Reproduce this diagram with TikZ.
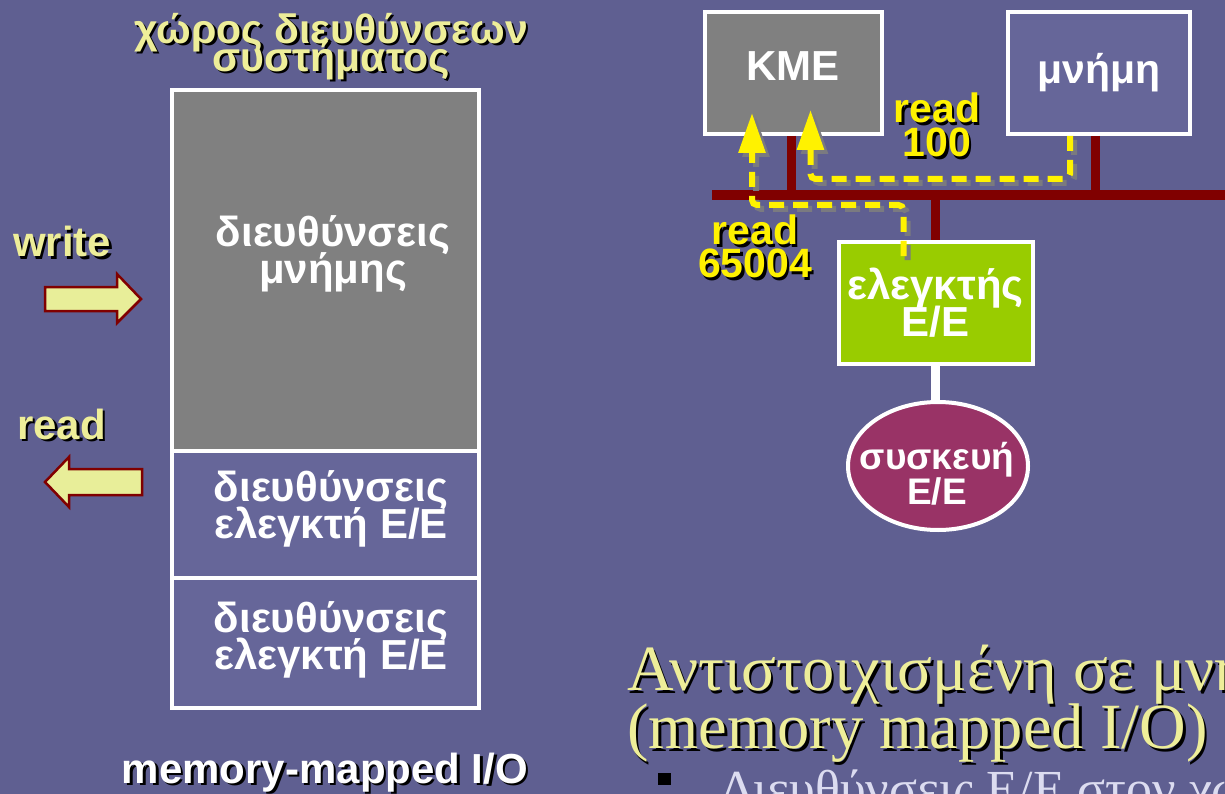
\documentclass[tikz,border=0pt]{standalone}
\usepackage{fontspec}
\setmainfont{Liberation Sans}
\newfontfamily\grserif{Liberation Serif}
\usetikzlibrary{calc,arrows.meta,shapes.geometric}
\definecolor{bgc}{HTML}{5F5F91}
\definecolor{lbox}{HTML}{666699}
\definecolor{pale}{HTML}{EEEE99}
\definecolor{palefill}{HTML}{E8EE99}
\definecolor{dred}{HTML}{800000}
\definecolor{gbox}{HTML}{808080}
\definecolor{gctrl}{HTML}{99CC00}
\definecolor{plum}{HTML}{993366}
\definecolor{lav}{HTML}{DCDCF0}
\definecolor{shgray}{HTML}{7A7A80}
\newcommand\bsz[2]{\bfseries\fontsize{#1}{#2}\selectfont\lineskiplimit=-100pt\relax}
\newcommand\ssz[2]{\grserif\fontsize{#1}{#2}\selectfont\lineskiplimit=-100pt\relax}
\newcommand\shnode[4]{%
  \node[#2,text=black] (#1s) at ($(#3)+(2.5,2.5)$) {#4};
  \node[#2] (#1) at (#3) {#4};}
\tikzset{
  every node/.style={inner sep=0pt},
  box/.style={draw=white, line width=4pt, rectangle},
  wtxt/.style={text=white, align=center, font={\bsz{42}{37}}},
  ytitle/.style={text=pale, align=center, font={\bsz{41}{28}}},
  ylab/.style={text=pale, font={\bsz{42}{42}}},
  rlab/.style={text=yellow, align=center, font={\bsz{41}{34}}},
  blockarrow/.style={draw=dred, line width=2.5pt, fill=palefill, line join=miter},
  bus/.style={draw=dred, line width=10pt},
  stub/.style={draw=dred, line width=9pt},
  flow/.style={draw=yellow, line width=6pt, dash pattern=on 15pt off 9pt, rounded corners=5pt,
    -{Triangle[width=26pt,length=40pt]}},
  flowsh/.style={flow, draw=shgray, transform canvas={shift={(4,4)}}},
  sertitle/.style={text=pale, align=left, anchor=north west, font={\ssz{64.5}{58}}},
}
\begin{document}
\begin{tikzpicture}[x=1pt,y=-1pt]
\useasboundingbox (0,0) rectangle (1225,794);
\clip (0,0) rectangle (1225,794);
\fill[bgc] (0,0) rectangle (1225,794);

% ---------- left: address space ----------
\shnode{space}{ytitle, anchor=north}{331,13}{χώρος διευθύνσεων\\συστήματος}
\node[box, fill=gbox, minimum width=307, minimum height=361] (memarea) at (325.5,270.5) {};
\node[box, fill=lbox, minimum width=307, minimum height=127] (io1) at (325.5,514.5) {};
\node[box, fill=lbox, minimum width=307, minimum height=130] (io2) at (325.5,643) {};
\node[wtxt, anchor=north] (memtxt) at (333,215) {διευθύνσεις\\μνήμης};
\node[wtxt, anchor=north] (io1txt) at (331,470) {διευθύνσεις\\ελεγκτή Ε/Ε};
\node[wtxt, anchor=north] (io2txt) at (331,601) {διευθύνσεις\\ελεγκτή Ε/Ε};

\shnode{wr}{ylab, anchor=base west}{13,257}{write}
\shnode{rd}{ylab, anchor=base west}{17,439}{read}
\draw[blockarrow] (45,287) -- (117,287) -- (117,274) -- (141,299) -- (117,323) -- (117,311) -- (45,311) -- cycle;
\draw[blockarrow] (142,469) -- (69,469) -- (69,457) -- (45,482) -- (69,507) -- (69,495) -- (142,495) -- cycle;

\shnode{mmio}{text=white, font={\bsz{42}{42}}, anchor=base}{325,783}{memory-mapped I/O}

% ---------- right: bus system ----------
\coordinate (busL) at (712,195);
\coordinate (busR) at (1225,195);
\draw[bus] (busL) -- (busR);

\node[box, fill=gbox, minimum width=177, minimum height=122] (kme) at (793.5,73) {};
\node[text=white, font={\bsz{42}{42}}] (kmetxt) at (793,66) {ΚΜΕ};
\node[box, fill=lbox, minimum width=182, minimum height=122, text=white, font={\bsz{41}{41}}] (mem) at (1099,73) {μνήμη};
\node[box, fill=gctrl, minimum width=194, minimum height=122, text=white, align=center, font={\bsz{42}{37}}] (ctrl) at (935.5,303) {ελεγκτής\\Ε/Ε};
\node[ellipse, draw=white, line width=4pt, fill=plum, minimum width=180, minimum height=128] (dev) at (938,466) {};
\node[text=white, align=center, font={\bsz{37}{35}}] (devtxt) at (937,474) {συσκευή\\Ε/Ε};

\draw[stub] ($(kme.south)+(-2.5,0)$) -- ($(kme.south |- busL)+(-2.5,0)$);
\draw[stub] ($(mem.south)+(-4,0)$) -- ($(mem.south |- busL)+(-4,0)$);
\draw[stub] (ctrl.north |- busL) -- (ctrl.north);
\draw[white, line width=9pt] (ctrl.south) -- (ctrl.south |- dev.north);

% read paths
\coordinate (p1s) at ($(mem.south)+(-29,0)$);
\coordinate (p1e) at ($(kme.south)+(17,-26)$);
\coordinate (p2s) at ($(ctrl.north)+(-32,16)$);
\coordinate (p2e) at ($(kme.south)+(-41.5,-23)$);
\draw[flowsh] (p1s) -- (p1s |- 0,179) -- (p1e |- 0,179) -- (p1e);
\draw[flowsh] (p2s) -- (p2s |- 0,205) -- (p2e |- 0,205) -- (p2e);
\draw[flow] (p1s) -- (p1s |- 0,179) -- (p1e |- 0,179) -- (p1e);
\draw[flow] (p2s) -- (p2s |- 0,205) -- (p2e |- 0,205) -- (p2e);

\shnode{r100}{rlab, anchor=north}{937,93}{read\\100}
\shnode{r65}{rlab, anchor=north, font={\bsz{41}{33}}}{755,215}{read\\65004}

% ---------- bottom-right title ----------
\shnode{ttl}{sertitle}{627,645}{Αντιστοιχισμένη σε μνήμη\\(memory mapped I/O)}
\node[fill=black, minimum size=12.5] (bul) at (664.5,779) {};
\node[text=lav, anchor=base west, font={\grserif\fontsize{52}{52}\selectfont}] (bultxt) at (720,806) {Διευθύνσεις Ε/Ε στον χώρο διευθύνσεων};
\end{tikzpicture}
\end{document}
